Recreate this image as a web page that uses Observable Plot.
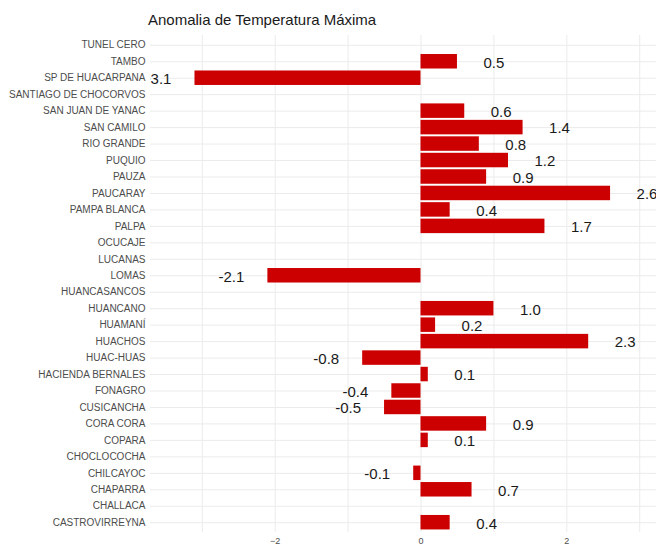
<!DOCTYPE html>
<html>
<head>
<meta charset="utf-8">
<script src="https://cdn.jsdelivr.net/npm/d3@7"></script>
<script src="https://cdn.jsdelivr.net/npm/@observablehq/plot@0.6"></script>
<style>
  html, body { margin: 0; padding: 0; background: #fff; overflow: hidden; }
  #title { position: absolute; left: 148px; top: 11px; font-family: "Liberation Sans", Arial, sans-serif; font-size: 15px; color: #1a1a1a; white-space: nowrap; }
  #chart { position: absolute; left: 0; top: 30px; }
</style>
</head>
<body>
<div id="title">Anomalia de Temperatura Máxima</div>
<div id="chart"></div>
<script>
const estaciones = [
  "TUNEL CERO", "TAMBO", "SP DE HUACARPANA", "SANTIAGO DE CHOCORVOS",
  "SAN JUAN DE YANAC", "SAN CAMILO", "RIO GRANDE", "PUQUIO", "PAUZA",
  "PAUCARAY", "PAMPA BLANCA", "PALPA", "OCUCAJE", "LUCANAS", "LOMAS",
  "HUANCASANCOS", "HUANCANO", "HUAMANÍ", "HUACHOS", "HUAC-HUAS",
  "HACIENDA BERNALES", "FONAGRO", "CUSICANCHA", "CORA CORA", "COPARA",
  "CHOCLOCOCHA", "CHILCAYOC", "CHAPARRA", "CHALLACA", "CASTROVIRREYNA"
];
const anomalias = [
  null, 0.5, -3.1, null,
  0.6, 1.4, 0.8, 1.2, 0.9,
  2.6, 0.4, 1.7, null, null, -2.1,
  null, 1.0, 0.2, 2.3, -0.8,
  0.1, -0.4, -0.5, 0.9, 0.1,
  null, -0.1, 0.7, null, 0.4
];
const xTickLabels = [-2, 0, 2];
const xGridLines = [-3, -2, -1, 0, 1, 2, 3];

const data = estaciones
  .map((name, i) => ({name, value: anomalias[i]}))
  .filter(d => d.value !== null);

const chart = Plot.plot({
  width: 656,
  height: 517,
  marginTop: 5,
  marginBottom: 15,
  marginLeft: 150,
  marginRight: 0,
  style: {fontFamily: "'Liberation Sans', Arial, sans-serif", background: "#fff"},
  x: {domain: [-3.71, 3.23], label: null},
  y: {domain: estaciones, paddingInner: 0.12, paddingOuter: 0.155, round: false, label: null},
  marks: [
    Plot.gridX(xGridLines, {stroke: "#ebebeb", strokeOpacity: 1, strokeWidth: 1}),
    Plot.gridY({stroke: "#ebebeb", strokeOpacity: 1, strokeWidth: 1}),
    Plot.barX(data, {x: "value", y: "name", fill: "#CC0000"}),
    Plot.text(data, {
      x: d => d.value + Math.sign(d.value) * 0.5,
      y: "name",
      text: d => d.value.toFixed(1),
      fontSize: 15,
      fill: "#1a1a1a",
      dy: 1,
      clip: true
    }),
    Plot.axisY({tickSize: 0, tickPadding: 5, fontSize: 10, fill: "#4d4d4d", label: null}),
    Plot.axisX(xTickLabels, {tickSize: 0, tickPadding: 5, fontSize: 9, fill: "#4d4d4d", label: null})
  ]
});
document.getElementById("chart").appendChild(chart);
</script>
</body>
</html>
